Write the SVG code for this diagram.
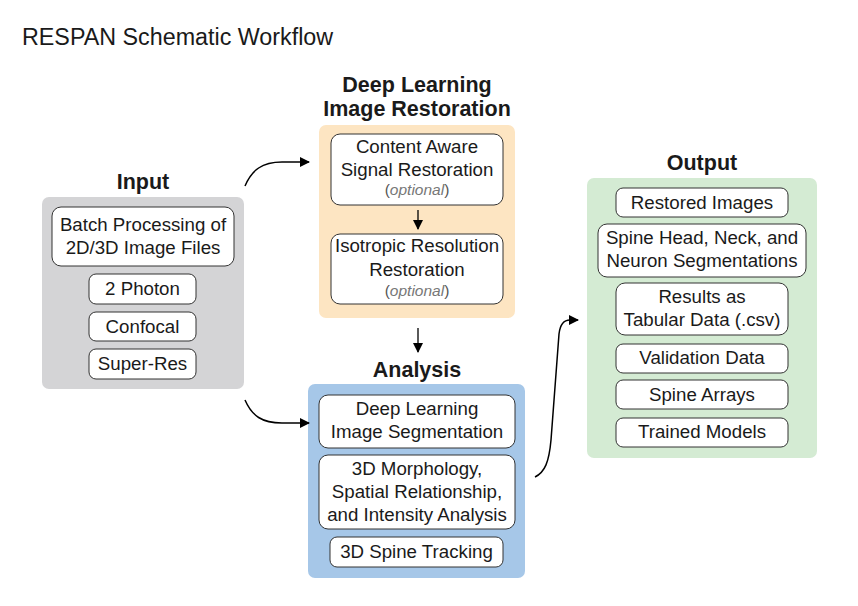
<svg xmlns="http://www.w3.org/2000/svg" width="858" height="606" viewBox="0 0 858 606">
<defs>
<marker id="ah" viewBox="0 0 10 10" refX="9" refY="5" markerWidth="10" markerHeight="10" markerUnits="userSpaceOnUse" orient="auto">
<path d="M0,0 L10,5 L0,10 z" fill="#000"/>
</marker>
<style>
text{font-family:"Liberation Sans",Arial,sans-serif;fill:#1a1a1a;text-anchor:middle}
.title{font-size:23.3px;text-anchor:start}
.hd{font-size:21.5px;font-weight:bold}
.t{font-size:18.7px}
.opt{font-size:15.5px;fill:#555}
.opt tspan{font-style:italic;fill:#777}
.box{fill:#fff;stroke:#333;stroke-width:1}
.conn{fill:none;stroke:#000;stroke-width:1.5}
</style>
</defs>
<rect width="858" height="606" fill="#fff"/>
<text class="title" x="22" y="45">RESPAN Schematic Workflow</text>

<g id="input">
<text class="hd" x="143" y="189">Input</text>
<rect x="42" y="197" width="202" height="192" rx="7" fill="#d4d4d6"/>
<g id="batch"><rect class="box" x="52" y="207" width="182" height="59" rx="9"/>
<text class="t" x="143" y="231">Batch Processing of</text><text class="t" x="143" y="254">2D/3D Image Files</text></g>
<g id="photon"><rect class="box" x="89" y="274" width="107" height="30" rx="7"/><text class="t" x="142.5" y="295">2 Photon</text></g>
<g id="confocal"><rect class="box" x="89" y="312" width="107" height="29" rx="7"/><text class="t" x="142.5" y="333">Confocal</text></g>
<g id="superres"><rect class="box" x="89" y="349" width="107" height="30" rx="7"/><text class="t" x="142.5" y="370">Super-Res</text></g>
</g>

<g id="restoration">
<text class="hd" x="417" y="92">Deep Learning</text>
<text class="hd" x="417" y="116">Image Restoration</text>
<rect x="319" y="125" width="196" height="193" rx="7" fill="#fde5c2"/>
<g id="care"><rect class="box" x="331" y="134" width="172" height="71" rx="9"/>
<text class="t" x="417" y="153">Content Aware</text><text class="t" x="417" y="176">Signal Restoration</text>
<text class="opt" x="417" y="195">(<tspan>optional</tspan>)</text></g>
<g id="iso"><rect class="box" x="331" y="234" width="172" height="70" rx="9"/>
<text class="t" x="417" y="252">Isotropic Resolution</text><text class="t" x="417" y="276">Restoration</text>
<text class="opt" x="417" y="296">(<tspan>optional</tspan>)</text></g>
</g>

<g id="analysis">
<text class="hd" x="417" y="377">Analysis</text>
<rect x="308" y="384" width="217" height="194" rx="7" fill="#a6c7e8"/>
<g id="seg"><rect class="box" x="319" y="395" width="196" height="53" rx="9"/>
<text class="t" x="417" y="415">Deep Learning</text><text class="t" x="417" y="438">Image Segmentation</text></g>
<g id="morph"><rect class="box" x="319" y="455" width="196" height="74" rx="9"/>
<text class="t" x="417" y="475">3D Morphology,</text><text class="t" x="417" y="498">Spatial Relationship,</text><text class="t" x="417" y="521">and Intensity Analysis</text></g>
<g id="track"><rect class="box" x="330" y="537" width="173" height="30" rx="7"/><text class="t" x="416.5" y="558">3D Spine Tracking</text></g>
</g>

<g id="output">
<text class="hd" x="702" y="170">Output</text>
<rect x="587" y="178" width="230" height="280" rx="7" fill="#d4ebd3"/>
<g id="restored"><rect class="box" x="616" y="188" width="172" height="29" rx="7"/><text class="t" x="702" y="209">Restored Images</text></g>
<g id="spinehead"><rect class="box" x="598" y="224" width="208" height="53" rx="9"/>
<text class="t" x="702" y="244">Spine Head, Neck, and</text><text class="t" x="702" y="267">Neuron Segmentations</text></g>
<g id="results"><rect class="box" x="616" y="283" width="172" height="52" rx="9"/>
<text class="t" x="702" y="303">Results as</text><text class="t" x="702" y="326">Tabular Data (.csv)</text></g>
<g id="validation"><rect class="box" x="616" y="344" width="172" height="29" rx="7"/><text class="t" x="702" y="364">Validation Data</text></g>
<g id="arrays"><rect class="box" x="616" y="380" width="172" height="29" rx="7"/><text class="t" x="702" y="401">Spine Arrays</text></g>
<g id="models"><rect class="box" x="616" y="418" width="172" height="29" rx="7"/><text class="t" x="702" y="438">Trained Models</text></g>
</g>

<g id="connectors">
<path class="conn" d="M245,186 C252,170 262,162 282,162 L309,162" marker-end="url(#ah)"/>
<path class="conn" d="M418,210 L418,229" marker-end="url(#ah)" style="stroke-width:1.3"/>
<path class="conn" d="M418,328 L418,352" marker-end="url(#ah)" style="stroke-width:1.3"/>
<path class="conn" d="M245,400 C252,416 262,423 282,423 L309,423" marker-end="url(#ah)"/>
<path class="conn" d="M535,477 C545,472 549,462 551,440 L559,334 C560,325 563,320 570,320 L578,320" marker-end="url(#ah)"/>
</g>
</svg>
